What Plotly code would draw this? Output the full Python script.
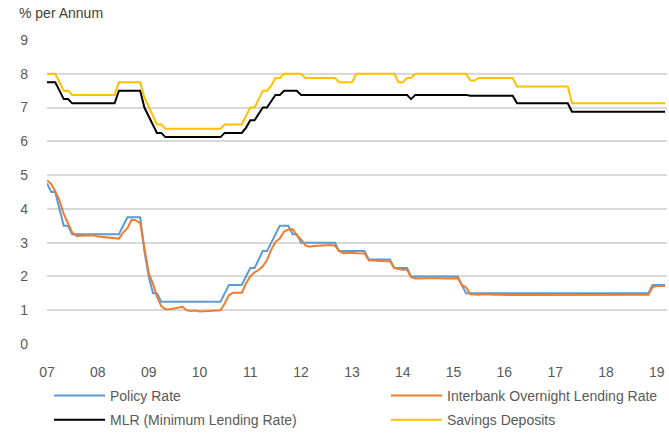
import pandas as pd
import plotly.graph_objects as go

# Monthly observations, January 2007 to March 2019 (% per annum)
start_month = "2007-01-01"

policy_rate = [
    4.75, 4.5, 4.5, 4.0, 3.5, 3.5, 3.25, 3.25, 3.25, 3.25, 3.25, 3.25,      # 2007
    3.25, 3.25, 3.25, 3.25, 3.25, 3.25, 3.5, 3.75, 3.75, 3.75, 3.75, 2.75,  # 2008
    2.0, 1.5, 1.5, 1.25, 1.25, 1.25, 1.25, 1.25, 1.25, 1.25, 1.25, 1.25,    # 2009
    1.25, 1.25, 1.25, 1.25, 1.25, 1.25, 1.5, 1.75, 1.75, 1.75, 1.75, 2.0,   # 2010
    2.25, 2.25, 2.5, 2.75, 2.75, 3.0, 3.25, 3.5, 3.5, 3.5, 3.25, 3.25,      # 2011
    3.0, 3.0, 3.0, 3.0, 3.0, 3.0, 3.0, 3.0, 3.0, 2.75, 2.75, 2.75,          # 2012
    2.75, 2.75, 2.75, 2.75, 2.5, 2.5, 2.5, 2.5, 2.5, 2.5, 2.25, 2.25,       # 2013
    2.25, 2.25, 2.0, 2.0, 2.0, 2.0, 2.0, 2.0, 2.0, 2.0, 2.0, 2.0,           # 2014
    2.0, 2.0, 1.75, 1.5, 1.5, 1.5, 1.5, 1.5, 1.5, 1.5, 1.5, 1.5,            # 2015
    1.5, 1.5, 1.5, 1.5, 1.5, 1.5, 1.5, 1.5, 1.5, 1.5, 1.5, 1.5,             # 2016
    1.5, 1.5, 1.5, 1.5, 1.5, 1.5, 1.5, 1.5, 1.5, 1.5, 1.5, 1.5,             # 2017
    1.5, 1.5, 1.5, 1.5, 1.5, 1.5, 1.5, 1.5, 1.5, 1.5, 1.5, 1.75,            # 2018
    1.75, 1.75, 1.75,                                                       # 2019
]

interbank_rate = [
    4.85, 4.73, 4.52, 4.25, 3.85, 3.55, 3.3, 3.2, 3.2, 3.21, 3.2, 3.22,
    3.18, 3.17, 3.16, 3.15, 3.14, 3.12, 3.3, 3.43, 3.68, 3.66, 3.58, 2.85,
    2.1, 1.78, 1.4, 1.12, 1.03, 1.03, 1.05, 1.09, 1.1, 1.0, 0.98, 0.99,
    0.96, 0.97, 0.98, 0.99, 1.0, 1.0, 1.2, 1.45, 1.52, 1.53, 1.52, 1.79,
    2.0, 2.12, 2.19, 2.3, 2.48, 2.8, 3.02, 3.12, 3.33, 3.38, 3.4, 3.22,
    3.1, 2.92, 2.88, 2.9, 2.91, 2.92, 2.93, 2.93, 2.91, 2.75, 2.69, 2.7,
    2.7, 2.69, 2.68, 2.68, 2.48, 2.48, 2.47, 2.46, 2.45, 2.45, 2.25, 2.22,
    2.2, 2.2, 1.98, 1.94, 1.95, 1.94, 1.95, 1.95, 1.96, 1.95, 1.94, 1.95,
    1.95, 1.95, 1.75, 1.68, 1.47, 1.46, 1.46, 1.47, 1.46, 1.46, 1.46, 1.46,
    1.45, 1.45, 1.45, 1.45, 1.45, 1.45, 1.45, 1.46, 1.46, 1.46, 1.46, 1.46,
    1.46, 1.45, 1.45, 1.46, 1.46, 1.45, 1.45, 1.45, 1.45, 1.45, 1.45, 1.45,
    1.45, 1.45, 1.45, 1.45, 1.45, 1.45, 1.45, 1.45, 1.45, 1.45, 1.46, 1.68,
    1.72, 1.72, 1.72,
]

mlr_rate = [
    7.75, 7.75, 7.75, 7.5, 7.25, 7.25, 7.125, 7.125, 7.125, 7.125, 7.125, 7.125,
    7.125, 7.125, 7.125, 7.125, 7.125, 7.5, 7.5, 7.5, 7.5, 7.5, 7.5, 7.0,
    6.75, 6.5, 6.25, 6.25, 6.125, 6.125, 6.125, 6.125, 6.125, 6.125, 6.125, 6.125,
    6.125, 6.125, 6.125, 6.125, 6.125, 6.125, 6.25, 6.25, 6.25, 6.25, 6.25, 6.4,
    6.625, 6.625, 6.8, 7.0, 7.0, 7.2, 7.375, 7.375, 7.5, 7.5, 7.5, 7.5,
    7.375, 7.375, 7.375, 7.375, 7.375, 7.375, 7.375, 7.375, 7.375, 7.375, 7.375, 7.375,
    7.375, 7.375, 7.375, 7.375, 7.375, 7.375, 7.375, 7.375, 7.375, 7.375, 7.375, 7.375,
    7.375, 7.375, 7.25, 7.375, 7.375, 7.375, 7.375, 7.375, 7.375, 7.375, 7.375, 7.375,
    7.375, 7.375, 7.375, 7.375, 7.35, 7.35, 7.35, 7.35, 7.35, 7.35, 7.35, 7.35,
    7.35, 7.35, 7.35, 7.125, 7.125, 7.125, 7.125, 7.125, 7.125, 7.125, 7.125, 7.125,
    7.125, 7.125, 7.125, 7.125, 6.875, 6.875, 6.875, 6.875, 6.875, 6.875, 6.875, 6.875,
    6.875, 6.875, 6.875, 6.875, 6.875, 6.875, 6.875, 6.875, 6.875, 6.875, 6.875, 6.875,
    6.875, 6.875, 6.875,
]

savings_rate = [
    8.0, 8.0, 8.0, 7.75, 7.5, 7.5, 7.375, 7.375, 7.375, 7.375, 7.375, 7.375,
    7.375, 7.375, 7.375, 7.375, 7.375, 7.75, 7.75, 7.75, 7.75, 7.75, 7.75, 7.3,
    7.0, 6.75, 6.5, 6.5, 6.375, 6.375, 6.375, 6.375, 6.375, 6.375, 6.375, 6.375,
    6.375, 6.375, 6.375, 6.375, 6.375, 6.375, 6.5, 6.5, 6.5, 6.5, 6.5, 6.75,
    7.0, 7.0, 7.25, 7.5, 7.5, 7.65, 7.875, 7.875, 8.0, 8.0, 8.0, 8.0,
    8.0, 7.875, 7.875, 7.875, 7.875, 7.875, 7.875, 7.875, 7.875, 7.75, 7.75, 7.75,
    7.75, 8.0, 8.0, 8.0, 8.0, 8.0, 8.0, 8.0, 8.0, 8.0, 8.0, 7.75,
    7.75, 7.875, 7.875, 8.0, 8.0, 8.0, 8.0, 8.0, 8.0, 8.0, 8.0, 8.0,
    8.0, 8.0, 8.0, 8.0, 7.8, 7.8, 7.875, 7.875, 7.875, 7.875, 7.875, 7.875,
    7.875, 7.875, 7.875, 7.625, 7.625, 7.625, 7.625, 7.625, 7.625, 7.625, 7.625, 7.625,
    7.625, 7.625, 7.625, 7.625, 7.125, 7.125, 7.125, 7.125, 7.125, 7.125, 7.125, 7.125,
    7.125, 7.125, 7.125, 7.125, 7.125, 7.125, 7.125, 7.125, 7.125, 7.125, 7.125, 7.125,
    7.125, 7.125, 7.125,
]

year_ticks = ["2007-01-01", "2008-01-01", "2009-01-01", "2010-01-01", "2011-01-01",
              "2012-01-01", "2013-01-01", "2014-01-01", "2015-01-01", "2016-01-01",
              "2017-01-01", "2018-01-01", "2019-01-01"]
year_labels = ["07", "08", "09", "10", "11", "12", "13", "14", "15", "16", "17", "18", "19"]
y_ticks = [0, 1, 2, 3, 4, 5, 6, 7, 8, 9]

months = pd.date_range(start_month, periods=len(policy_rate), freq="MS")

# (name, values, colour, legend column)
series = [
    ("Policy Rate", policy_rate, "#5B9BD5", "legend"),
    ("Interbank Overnight Lending Rate", interbank_rate, "#ED7D31", "legend2"),
    ("MLR (Minimum Lending Rate)", mlr_rate, "#000000", "legend"),
    ("Savings Deposits", savings_rate, "#FFC000", "legend2"),
]

FONT = "Liberation Sans, Arial, sans-serif"
GREY = "#595959"

fig = go.Figure()
for name, values, color, legend_id in series:
    fig.add_trace(go.Scatter(
        x=months, y=values, name=name, mode="lines",
        line=dict(color=color, width=2),
        legend=legend_id, legendgroup=name,
    ))

# Two legend columns below the plot
legend_common = dict(
    orientation="v", yanchor="top", xanchor="left", y=-0.118,
    itemwidth=51, tracegroupgap=3, borderwidth=0,
    bgcolor="rgba(0,0,0,0)",
    font=dict(family=FONT, size=14, color=GREY),
)

fig.update_layout(
    width=669, height=434,
    margin=dict(l=47, r=2, t=40, b=90, autoexpand=False),
    paper_bgcolor="white", plot_bgcolor="white",
    font=dict(family=FONT, size=14, color=GREY),
    showlegend=True,
    legend=dict(x=2 / 620, **legend_common),
    legend2=dict(x=339 / 620, **legend_common),
    annotations=[dict(
        text="% per Annum", xref="paper", yref="paper",
        x=-30 / 620, y=(344 - 13) / 304, xanchor="left", yanchor="middle",
        showarrow=False, font=dict(family=FONT, size=14, color="#404040"),
    )],
)

fig.update_xaxes(
    range=["2007-01-01", "2019-03-15"],
    tickvals=year_ticks, ticktext=year_labels,
    showgrid=False, zeroline=False, showline=False, ticks="",
    ticklabelstandoff=18, tickfont=dict(size=14, color=GREY),
)
fig.update_yaxes(
    range=[0, 9], tickvals=y_ticks,
    showgrid=True, gridcolor="#D9D9D9", gridwidth=1.5,
    zeroline=False, showline=False, ticks="",
    ticklabelstandoff=18, tickfont=dict(size=14, color=GREY),
)

fig.write_html("out.html")
